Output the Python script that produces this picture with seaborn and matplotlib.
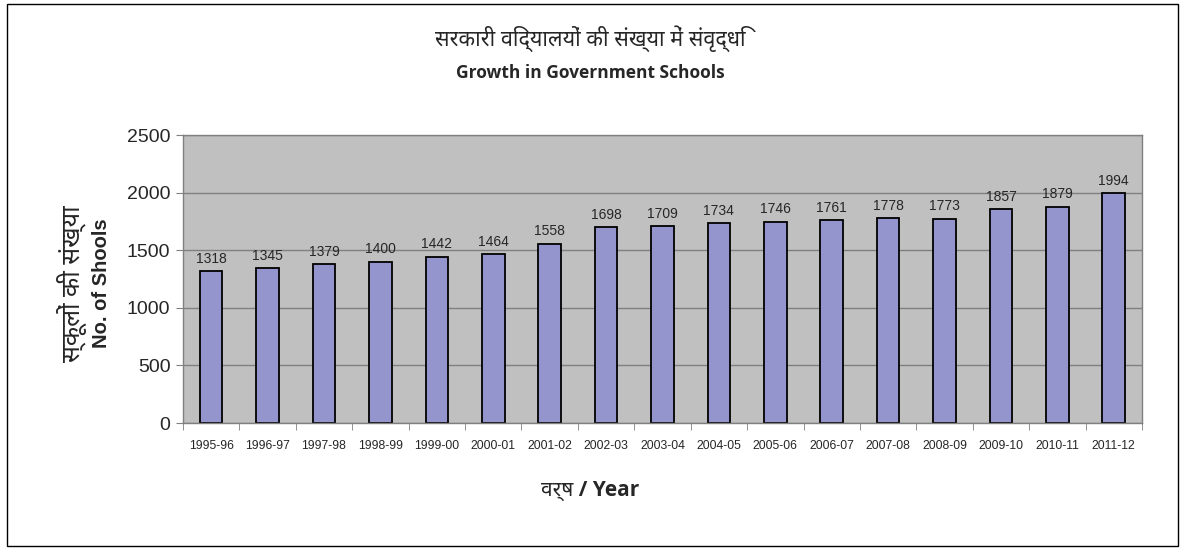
import seaborn as sns
import matplotlib.pyplot as plt
import pandas as pd
from matplotlib.patches import Rectangle

years = ["1995-96", "1996-97", "1997-98", "1998-99", "1999-00", "2000-01",
         "2001-02", "2002-03", "2003-04", "2004-05", "2005-06", "2006-07",
         "2007-08", "2008-09", "2009-10", "2010-11", "2011-12"]
schools = [1318, 1345, 1379, 1400, 1442, 1464, 1558, 1698, 1709, 1734,
           1746, 1761, 1778, 1773, 1857, 1879, 1994]
y_ticks = [0, 500, 1000, 1500, 2000, 2500]

title_hi = "सरकारी विद्यालयों की संख्या में संवृद्धि"
title_en = "Growth in Government Schools"
ylabel_hi = "स्कूलों की संख्या"
ylabel_en = "No. of Shools"
xlabel = "वर्ष / Year"

sns.set_style("white")
plt.rcParams['font.family'] = ['Liberation Sans', 'Noto Sans', 'DejaVu Sans']

df = pd.DataFrame({"year": years, "schools": schools})

fig = plt.figure(figsize=(11.85, 5.5), dpi=100)
ax = fig.add_axes([0.1544, 0.2309, 0.8093, 0.5236])

sns.barplot(data=df, x="year", y="schools", ax=ax, color="#9595ce",
            width=0.4, edgecolor="black", linewidth=1.3, saturation=1)
ax.set_facecolor("#c0c0c0")
ax.set_ylim(0, 2500)
ax.set_xlim(-0.5, len(years) - 0.5)
ax.set_yticks(y_ticks)
ax.yaxis.grid(True, color="#808080", linewidth=1)
ax.set_axisbelow(True)
for s in ax.spines.values():
    s.set_color("#808080")
    s.set_linewidth(1)

ax.tick_params(axis='y', labelsize=14, length=5, color="#808080", direction="out", left=True, pad=4)
ax.tick_params(axis='x', labelsize=8.8, length=0, pad=12)
ax.set_xticks([i + 0.5 for i in range(-1, len(years))], minor=True)
ax.tick_params(axis='x', which='minor', length=5, color="#808080", bottom=True)

ax.bar_label(ax.containers[0], labels=[str(v) for v in schools], padding=4,
             fontsize=10)

ax.set_xlabel("")
ax.set_ylabel("")

fig.text(0.498, 0.930, title_hi, ha="center", va="center", fontsize=15.5,
         fontweight="bold", family=['Noto Sans', 'DejaVu Sans'])
fig.text(0.498, 0.868, title_en, ha="center", va="center", fontsize=12.5,
         fontweight="bold", family=['Open Sans', 'DejaVu Sans'])
fig.text(0.061, 0.485, ylabel_hi, ha="center", va="center", rotation=90,
         fontsize=18, fontweight="bold", family=['Noto Sans', 'DejaVu Sans'])
fig.text(0.086, 0.485, ylabel_en, ha="center", va="center", rotation=90,
         fontsize=14.5, fontweight="bold", family=['Liberation Sans', 'DejaVu Sans'])
fig.text(0.498, 0.108, xlabel, ha="center", va="center", fontsize=15,
         fontweight="bold", family=['Open Sans', 'Noto Sans', 'DejaVu Sans'])

fig.add_artist(Rectangle((0.006, 0.007), 0.988, 0.986, transform=fig.transFigure,
                         fill=False, edgecolor="black", linewidth=1))

fig.savefig("out.png", dpi=100)
